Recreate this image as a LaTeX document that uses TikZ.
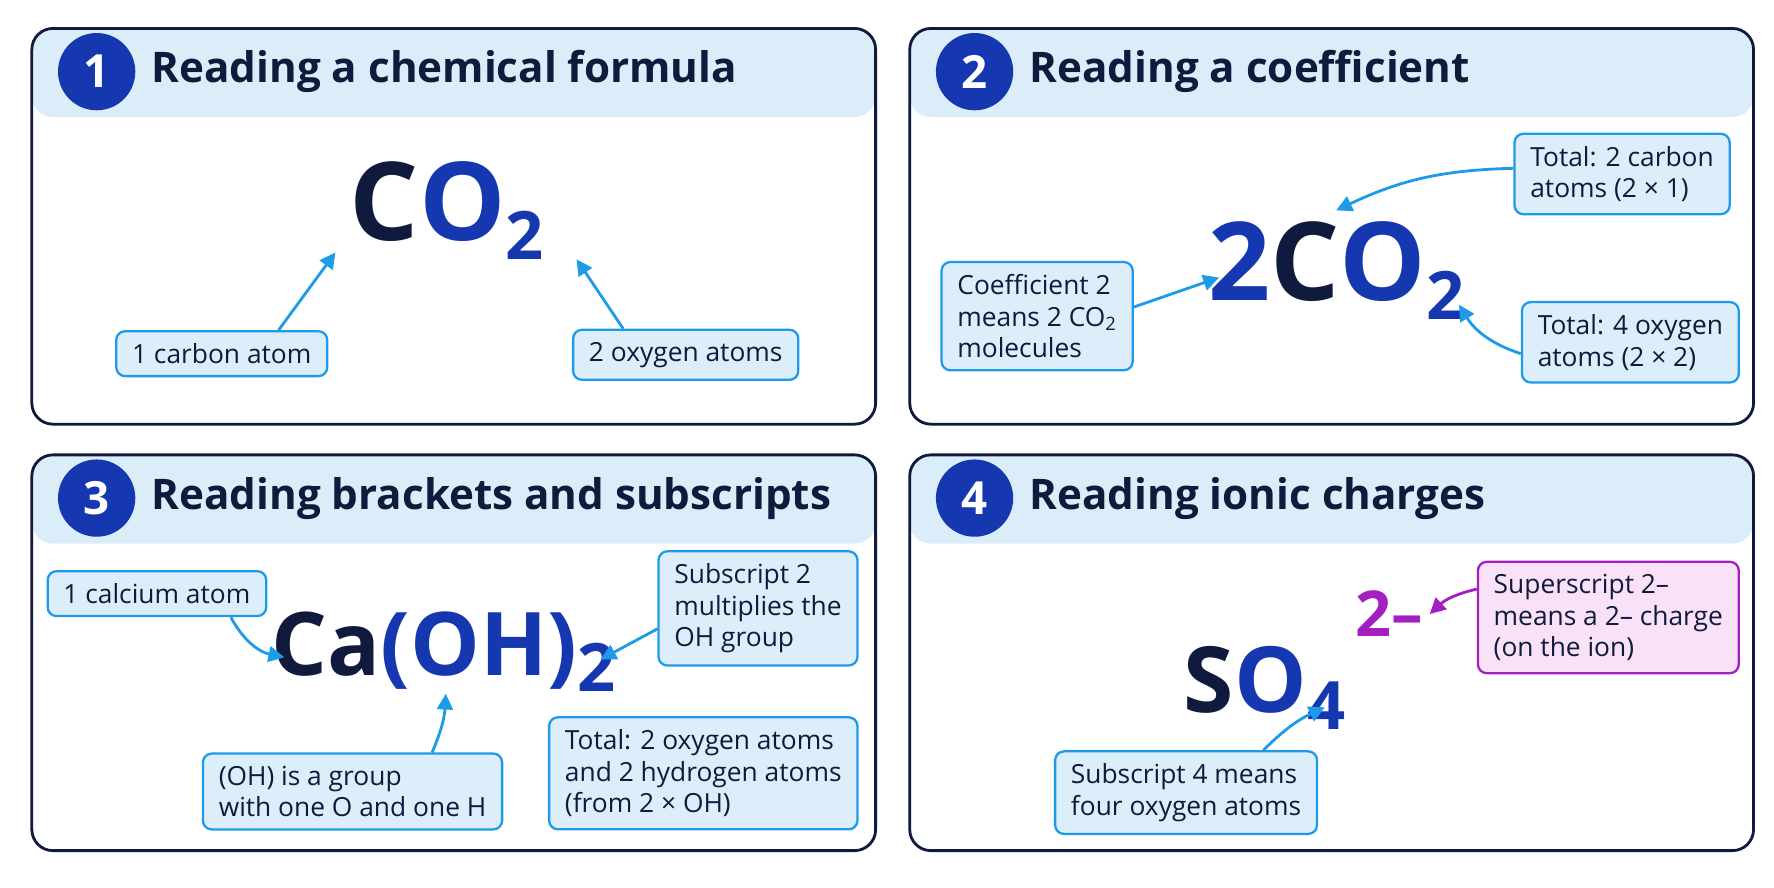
\documentclass[tikz,border=0pt]{standalone}
\usepackage{fontspec}
\setmainfont{Open Sans}
\usetikzlibrary{arrows.meta}

\definecolor{navy}{HTML}{101A3C}
\definecolor{dblue}{HTML}{1538B0}
\definecolor{abluec}{HTML}{1E9BE8}
\definecolor{boxfill}{HTML}{DDEEFB}
\definecolor{headfill}{HTML}{DCEDFA}
\definecolor{pcolor}{HTML}{A41FC0}
\definecolor{pfill}{HTML}{F9E2F8}

\tikzset{
  panel/.style={draw=navy, line width=1.6pt, rounded corners=12},
  numcirc/.style={circle, fill=dblue, text=white, minimum size=44pt, inner sep=0pt, font=\fontsize{26}{26}\selectfont\bfseries},
  title/.style={anchor=west, text=navy, font=\fontsize{24}{28}\selectfont\bfseries},
  lbl/.style={draw=abluec, fill=boxfill, line width=1.3pt, rounded corners=5, text=navy, align=left, inner xsep=9pt, inner ysep=7pt, font=\fontsize{15}{18}\selectfont},
  plbl/.style={lbl, draw=pcolor, fill=pfill},
  formula/.style={font=\fontsize{62}{62}\selectfont\bfseries, inner sep=0pt},
  arrow/.style={draw=abluec, line width=1.6pt, -{Triangle[length=9pt,width=9pt]}},
  parrow/.style={arrow, draw=pcolor},
}

\newcommand{\sub}[1]{\raisebox{-0.18em}{\fontsize{38}{38}\selectfont #1}}

\begin{document}
\begin{tikzpicture}[x=0.022744cm, y=-0.022744cm]
\useasboundingbox (0,0) rectangle (1560,780);

% panels
\foreach \px/\py/\n/\t in {28/25/1/Reading a chemical formula, 800/25/2/Reading a coefficient,
    28/400/3/Reading brackets and subscripts, 800/400/4/Reading ionic charges} {
  \begin{scope}[shift={(\px,\py)}]
    \fill[headfill, rounded corners=12] (0,78) -- (0,0) -- (742,0) -- (742,78) -- cycle;
    \draw[panel] (0,0) rectangle (742,348);
    \node[numcirc] at (57,38) {\n};
    \node[title] at (100,38) {\t};
  \end{scope}
}

% 1
\node[formula] (co) at (393,185) {\textcolor{navy}{C}\textcolor{dblue}{O\sub{2}}};
\node[lbl] (carbon) at (195,311) {1 carbon atom};
\node[lbl] (oxy) at (603,312) {2 oxygen atoms};
\coordinate (cC) at (295,222);
\coordinate (cO) at (507,228);
\draw[arrow] (carbon.north) ++(50,0) -- (cC);
\draw[arrow] (oxy.north) ++(-55,0) -- (cO);

% 2
\node[formula] (tco) at (1175,238) {\textcolor{dblue}{2}\textcolor{navy}{C}\textcolor{dblue}{O\sub{2}}};
\node[lbl] (coef) at (912,278) {Coefficient 2\\means 2 CO\textsubscript{2}\\molecules};
\node[lbl, anchor=east] (totc) at (1522,153) {Total: 2 carbon\\atoms (2 × 1)};
\node[lbl, anchor=east] (toto) at (1530,301) {Total: 4 oxygen\\atoms (2 × 2)};
\coordinate (tC) at (1175,185);
\coordinate (tO) at (1283,268);
\draw[arrow] (coef.east) ++(0,-8) -- (1072,244);
\draw[arrow] (totc.west) ++(0,-5) to[bend right=12] (tC);
\draw[arrow] (toto.west) ++(0,10) to[bend left=20] (tO);

% 3
\node[formula, font=\fontsize{50}{50}\selectfont\bfseries] (caoh) at (390,573) {\textcolor{navy}{Ca}\textcolor{dblue}{(OH)\sub{2}}};
\node[lbl] (ca) at (138,522) {1 calcium atom};
\node[lbl, anchor=east] (subs) at (755,535) {Subscript 2\\multiplies the\\OH group};
\node[lbl] (grp) at (310,696) {(OH) is a group\\with one O and one H};
\node[lbl, anchor=east] (tot3) at (755,680) {Total: 2 oxygen atoms\\and 2 hydrogen atoms\\(from 2 × OH)};
\draw[arrow] (ca.south) ++(65,0) to[bend right=25] (250,578);
\draw[arrow] (subs.west) ++(0,18) -- (528,580);
\draw[arrow] (grp.north) ++(70,0) to[bend right=10] (392,610);

% 4
\node[formula, font=\fontsize{52}{52}\selectfont\bfseries] (so) at (1112,605) {\textcolor{navy}{S}\textcolor{dblue}{O\sub{4}}};
\node[font=\fontsize{36}{36}\selectfont\bfseries, text=pcolor] (chg) at (1222,540) {2–};
\node[plbl, anchor=east] (sup) at (1530,543) {Superscript 2–\\means a 2– charge\\(on the ion)};
\node[lbl] (s4) at (1043,697) {Subscript 4 means\\four oxygen atoms};
\draw[parrow] (sup.west) ++(0,-25) to[bend right=15] (chg.east);
\draw[arrow] (s4.north) ++(68,0) to[bend left=10] (1165,622);
\end{tikzpicture}
\end{document}
